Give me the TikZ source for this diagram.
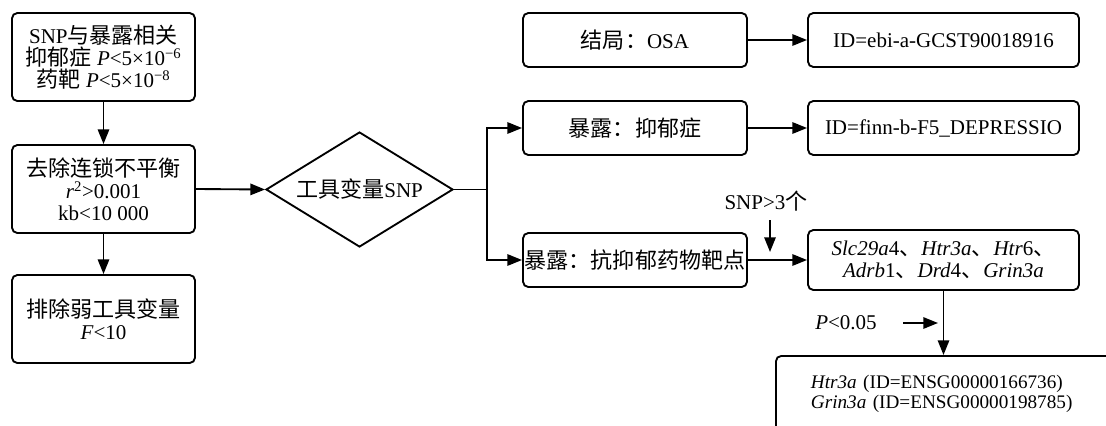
\documentclass[tikz,border=0pt]{standalone}
\usepackage{fontspec}
\setmainfont{Liberation Serif}
\newfontfamily\cjk[Scale=1.05]{Noto Sans CJK SC}
\usetikzlibrary{shapes.geometric,arrows.meta}
\newcommand\zh[1]{{\cjk #1}}
\begin{document}
\begin{tikzpicture}[x=0.75pt,y=-0.75pt,
  box/.style={draw, line width=1.4pt, rounded corners=4pt, align=center, inner sep=0pt,
    font=\fontsize{15.75pt}{16.5pt}\selectfont},
  dia/.style={draw, line width=1.4pt, diamond, inner sep=0pt,
    font=\fontsize{15.75pt}{16.5pt}\selectfont},
  lbl/.style={inner sep=0pt, font=\fontsize{15.75pt}{16.5pt}\selectfont},
  arr/.style={line width=1.4pt, -{Triangle[length=11pt,width=8.5pt]}},
  ln/.style={line width=1.4pt}]
\useasboundingbox (0,0) rectangle (1106,425);
\fill[white] (0,0) rectangle (1106,425);
\clip (0,0) rectangle (1106,425);

% left column
\node[box, minimum width=137.25pt, minimum height=66pt] (snp) at (103.5,57)
  {SNP\zh{与暴露相关}\\ \zh{抑郁症} \textit{P}<5×10\textsuperscript{−6}\\ \zh{药靶} \textit{P}<5×10\textsuperscript{−8}};
\node[box, minimum width=137.25pt, minimum height=66pt] (ld) at (103.5,189)
  {\zh{去除连锁不平衡}\\ \textit{r}\textsuperscript{2}>0.001\\ kb<10 000};
\node[box, minimum width=137.25pt, minimum height=66pt] (weak) at (103.5,319)
  {\zh{排除弱工具变量}\\ \textit{F}<10};

% diamond
\node[dia, aspect=1.63, minimum width=140.25pt, minimum height=86.25pt] (iv) at (359.5,189.5)
  {\zh{工具变量}SNP};

% middle column
\node[box, minimum width=168pt, minimum height=40.5pt] (out) at (635,40) {\zh{结局：}OSA};
\node[box, minimum width=168pt, minimum height=40.5pt] (exp1) at (635,128) {\zh{暴露：抑郁症}};
\node[box, minimum width=168pt, minimum height=40.5pt] (exp2) at (635,260) {\zh{暴露：抗抑郁药物靶点}};

% right column
\node[box, minimum width=203.25pt, minimum height=40.5pt] (id1) at (943.5,40) {ID=ebi-a-GCST90018916};
\node[box, minimum width=203.25pt, minimum height=40.5pt] (id2) at (943.5,128) {ID=finn-b-F5\_DEPRESSIO};
\node[box, minimum width=203.25pt, minimum height=45pt] (genes) at (943.5,260)
  {\textit{Slc29a}4\zh{、}\textit{Htr3a}\zh{、}\textit{Htr}6\zh{、}\\ \textit{Adrb}1\zh{、}\textit{Drd}4\zh{、}\textit{Grin3a}};

\node[box, anchor=north west, minimum width=273.75pt, minimum height=57pt,
  text width=221.25pt, inner xsep=26.25pt, align=left,
  font=\fontsize{14.4pt}{15pt}\selectfont] (res) at (775,355)
  {\textit{Htr3a} (ID=ENSG00000166736)\\ \textit{Grin3a} (ID=ENSG00000198785)};

% labels
\node[lbl] (snplbl) at (766,201) {SNP>3\zh{个}};
\node[lbl, anchor=west] (plbl) at (815,323) {\textit{P}<0.05};

% connectors
\draw[arr] (snp) -- (ld);
\draw[arr] (ld) -- (weak);
\draw[arr] (ld.east) -- (iv.west);
\coordinate (br) at (487,189.5);
\draw[ln] (iv.east) -- (br);
\draw[arr] (br) |- (exp1.west);
\draw[arr] (br) |- (exp2.west);
\draw[arr] (out) -- (id1);
\draw[arr] (exp1) -- (id2);
\draw[arr] (exp2) -- (genes);
\draw[arr] (genes.south) -- (genes.south |- res.north);

\coordinate (sa) at (770,220);
\coordinate (sb) at (770,252);
\draw[arr] (sa) -- (sb);
\coordinate (pa) at (903,323);
\coordinate (pb) at (938,323);
\draw[arr] (pa) -- (pb);
\end{tikzpicture}
\end{document}
